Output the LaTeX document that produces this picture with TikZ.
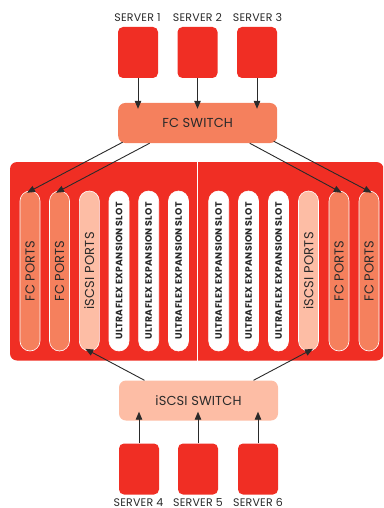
\documentclass[tikz,border=0pt]{standalone}
\usepackage{fontspec}
\setmainfont{Poppins}
\usetikzlibrary{arrows.meta,calc}
\definecolor{rd}{HTML}{F02E24}
\definecolor{org}{HTML}{F5805D}
\definecolor{pch}{HTML}{FDBDA5}
\definecolor{ink}{HTML}{2A2A2A}
\tikzset{
 server/.style={fill=rd,draw=none,rounded corners=5pt,minimum width=40pt,minimum height=51pt,inner sep=0},
 switchbox/.style={draw=none,rounded corners=7pt,minimum width=159pt,minimum height=40pt,inner sep=0,text=ink,font=\fontsize{13}{14}\selectfont\addfontfeatures{LetterSpace=1}},
 slab/.style={text=ink,font=\fontsize{11}{12}\selectfont\addfontfeatures{LetterSpace=2},inner sep=0},
 pill/.style={rounded corners=10pt,minimum width=160pt,minimum height=20pt,inner sep=0,draw=white,line width=0.6pt,rotate=90,text=ink},
 fcpill/.style={pill,fill=org,font=\fontsize{13}{14}\selectfont\addfontfeatures{LetterSpace=1}},
 ipill/.style={pill,fill=pch,font=\fontsize{13}{14}\selectfont\addfontfeatures{LetterSpace=2}},
 upill/.style={pill,fill=white,font=\fontsize{9.3}{10}\selectfont\bfseries\addfontfeatures{LetterSpace=3}},
 conn/.style={draw=ink,line width=0.9pt,-{Triangle[length=8pt,width=6.5pt]}},
}
\begin{document}
\begin{tikzpicture}[x=1pt,y=-1pt]
\useasboundingbox (0,0) rectangle (383,508);
\clip (0,0) rectangle (383,508);
\fill[rd,rounded corners=7pt] (10,162) rectangle (383.5,360.5);
\node[server] (s1) at (138,52.5) {};
\node[server] (s2) at (197.5,52.5) {};
\node[server] (s3) at (257,52.5) {};
\node[slab] (l1) at (137.5,17.5) {SERVER 1};
\node[slab] (l2) at (197.5,17.5) {SERVER 2};
\node[slab] (l3) at (257.5,17.5) {SERVER 3};
\node[switchbox,fill=org] (fc) at (197.7,123) {FC SWITCH};
\node[switchbox,fill=pch] (is) at (198.5,400.5) {iSCSI SWITCH};
\node[server] (s4) at (139,469) {};
\node[server] (s5) at (198,469) {};
\node[server] (s6) at (258,469) {};
\node[slab] (l4) at (138.5,502.6) {SERVER 4};
\node[slab] (l5) at (198,502.6) {SERVER 5};
\node[slab] (l6) at (258,502.6) {SERVER 6};
\draw[white,line width=0.7pt] (197.6,162) -- (197.6,360.5);
\node[fcpill] (p1) at (30,271) {FC PORTS};
\node[fcpill] (p2) at (59.5,271) {FC PORTS};
\node[ipill] (p3) at (89.3,271) {iSCSI PORTS};
\node[upill] (p4) at (119,271) {ULTRAFLEX EXPANSION SLOT};
\node[upill] (p5) at (148.7,271) {ULTRAFLEX EXPANSION SLOT};
\node[upill] (p6) at (178.5,271) {ULTRAFLEX EXPANSION SLOT};
\node[upill] (p7) at (218.7,271) {ULTRAFLEX EXPANSION SLOT};
\node[upill] (p8) at (248.5,271) {ULTRAFLEX EXPANSION SLOT};
\node[upill] (p9) at (278.5,271) {ULTRAFLEX EXPANSION SLOT};
\node[ipill] (p10) at (308.5,271) {iSCSI PORTS};
\node[fcpill] (p11) at (339,271) {FC PORTS};
\node[fcpill] (p12) at (369,271) {FC PORTS};
\draw[conn] (s1.south) -- ([yshift=-6pt]fc.north -| s1.south);
\draw[conn] (s2.south) -- ([yshift=-6pt]fc.north -| s2.south);
\draw[conn] (s3.south) -- ([yshift=-6pt]fc.north -| s3.south);
\draw[conn] (s4.north) -- ([yshift=9pt]is.south -| s4.north);
\draw[conn] (s5.north) -- ([yshift=9pt]is.south -| s5.north);
\draw[conn] (s6.north) -- ([yshift=9pt]is.south -| s6.north);
\draw[conn] ([xshift=-75pt,yshift=1pt]fc.south) -- ([xshift=-3pt,yshift=-2pt]p1.east);
\draw[conn] ([xshift=-48pt]fc.south) -- ([xshift=-3.5pt,yshift=-2pt]p2.east);
\draw[conn] ([xshift=52pt]fc.south) -- ([xshift=2.7pt,yshift=-2pt]p11.east);
\draw[conn] ([xshift=76pt,yshift=2pt]fc.south) -- ([xshift=2.7pt,yshift=-2pt]p12.east);
\draw[conn] ([xshift=-54pt]is.north) -- ([xshift=-4pt,yshift=2.5pt]p3.west);
\draw[conn] ([xshift=55pt]is.north) -- ([xshift=4.5pt,yshift=2.5pt]p10.west);
\end{tikzpicture}
\end{document}
